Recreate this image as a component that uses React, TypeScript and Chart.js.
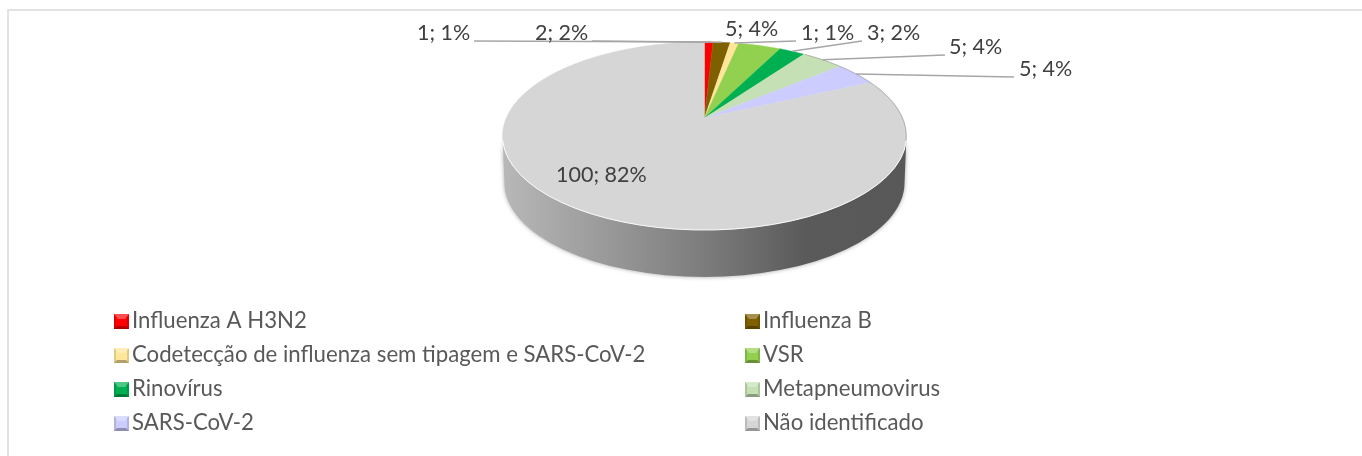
import React, { useEffect, useRef } from "react";
import { Chart, registerables } from "chart.js";

Chart.register(...registerables);

const categories = [
  "Influenza A H3N2",
  "Influenza B",
  "Codetecção de influenza sem tipagem e SARS-CoV-2",
  "VSR",
  "Rinovírus",
  "Metapneumovirus",
  "SARS-CoV-2",
  "Não identificado",
];
const counts = [1, 2, 1, 5, 3, 5, 5, 100];
const sliceColors = ["#ff0000", "#7f6000", "#ffe699", "#92d050", "#00b050", "#c5e0b4", "#ccccff", "#d6d6d6"];

// Layout of the annotation texts (text left edge, text baseline, leader start)
const labelLayout = [
  { x: 417, y: 40, lx: 474, ly: 41 },
  { x: 535, y: 40, lx: 592, ly: 41 },
  { x: 801, y: 40, lx: 796, ly: 41 },
  { x: 725, y: 36, lx: null, ly: null },
  { x: 867, y: 40, lx: 862, ly: 41 },
  { x: 949, y: 54, lx: 945, ly: 55 },
  { x: 1019, y: 76, lx: 1014, ly: 77 },
  { x: 556, y: 182, lx: null, ly: null },
];

const ELLIPSE_CY = 136;
const ELLIPSE_RY = 94;
const APEX_OFFSET = -18 / 94;
const WALL = 47;
const FONT = 'Lato, "Open Sans", sans-serif';
const LABEL_FONT_SIZE = 21.5;
const LEGEND_FONT_SIZE = 22.2;

const project = (cx: number, rx: number, angle: number) => {
  const ux = Math.cos(angle);
  const uy = Math.sin(angle);
  const a = APEX_OFFSET;
  const d = 1 + a * uy;
  return {
    x: cx + rx * ((ux * Math.sqrt(1 - a * a)) / d),
    y: ELLIPSE_CY + ELLIPSE_RY * ((uy + a) / d),
  };
};

const perspectivePie = {
  id: "perspectivePie",
  beforeDatasetsDraw(chart: any) {
    const ctx = chart.ctx;
    const arcs = chart.getDatasetMeta(0).data;
    const cx = arcs[0].x;
    const rx = arcs[0].outerRadius;
    const bottomY = ELLIPSE_CY + WALL;

    // frame
    ctx.save();
    ctx.strokeStyle = "#e2e2e2";
    ctx.lineWidth = 2;
    ctx.beginPath();
    ctx.moveTo(8, 456);
    ctx.lineTo(8, 10);
    ctx.lineTo(1362, 10);
    ctx.stroke();
    ctx.restore();

    // side wall
    ctx.save();
    const g = ctx.createLinearGradient(cx - rx, 0, cx + rx, 0);
    g.addColorStop(0, "#b8b8b8");
    g.addColorStop(0.5, "#7c7c7c");
    g.addColorStop(0.75, "#5a5a5a");
    g.addColorStop(1, "#585858");
    ctx.shadowColor = "rgba(0,0,0,0.35)";
    ctx.shadowBlur = 4;
    ctx.fillStyle = g;
    ctx.beginPath();
    ctx.ellipse(cx, bottomY, rx - 2, ELLIPSE_RY, 0, Math.PI, 0, true);
    ctx.lineTo(cx + rx, ELLIPSE_CY);
    ctx.ellipse(cx, ELLIPSE_CY, rx, ELLIPSE_RY, 0, 0, Math.PI, false);
    ctx.closePath();
    ctx.fill();
    ctx.restore();

    // top face
    const apexPt = { x: cx, y: ELLIPSE_CY + ELLIPSE_RY * APEX_OFFSET };
    arcs.forEach((arc: any) => {
      const span = arc.endAngle - arc.startAngle;
      const steps = Math.max(4, Math.ceil(span / 0.02));
      ctx.beginPath();
      ctx.moveTo(apexPt.x, apexPt.y);
      for (let s = 0; s <= steps; s++) {
        const p = project(cx, rx, arc.startAngle + (span * s) / steps);
        ctx.lineTo(p.x, p.y);
      }
      ctx.closePath();
      ctx.fillStyle = arc.options.backgroundColor;
      ctx.fill();
      ctx.strokeStyle = arc.options.backgroundColor;
      ctx.lineWidth = 0.4;
      ctx.stroke();
    });

    // rim highlight
    ctx.save();
    ctx.strokeStyle = "rgba(255,255,255,0.85)";
    ctx.lineWidth = 1;
    ctx.beginPath();
    ctx.ellipse(cx, ELLIPSE_CY, rx, ELLIPSE_RY, 0, 0.05, Math.PI - 0.05, false);
    ctx.stroke();
    ctx.strokeStyle = "rgba(150,150,150,0.6)";
    ctx.beginPath();
    ctx.ellipse(cx, ELLIPSE_CY, rx - 0.3, ELLIPSE_RY, 0, -1.05, 0.05, false);
    ctx.stroke();
    ctx.restore();

    // leader lines and value labels
    const values: number[] = chart.data.datasets[0].data;
    const total = values.reduce((s, v) => s + v, 0);
    ctx.save();
    ctx.font = `${LABEL_FONT_SIZE}px ${FONT}`;
    ctx.textBaseline = "alphabetic";
    ctx.textAlign = "left";
    arcs.forEach((arc: any, i: number) => {
      const l = labelLayout[i];
      if (l.lx !== null) {
        const p = project(cx, rx, (arc.startAngle + arc.endAngle) / 2);
        ctx.strokeStyle = "#a6a6a6";
        ctx.lineWidth = 1.5;
        ctx.beginPath();
        ctx.moveTo(l.lx, l.ly as number);
        ctx.lineTo(p.x, p.y);
        ctx.stroke();
      }
    });
    arcs.forEach((_: any, i: number) => {
      const l = labelLayout[i];
      ctx.fillStyle = "#404040";
      ctx.fillText(`${values[i]}; ${Math.round((values[i] / total) * 100)}%`, l.x, l.y);
    });
    ctx.restore();

    // legend
    ctx.save();
    ctx.font = `${LEGEND_FONT_SIZE}px ${FONT}`;
    ctx.textBaseline = "alphabetic";
    const colX = [114, 745];
    const rowY = [329, 363, 397, 431];
    chart.data.labels.forEach((label: string, i: number) => {
      const x = colX[i % 2];
      const y = rowY[Math.floor(i / 2)];
      const color = arcs[i].options.backgroundColor;
      const s = 15;
      ctx.fillStyle = color;
      ctx.fillRect(x, y - s, s, s);
      const shade = (pts: number[][], fill: string) => {
        ctx.fillStyle = fill;
        ctx.beginPath();
        pts.forEach((p, k) => (k ? ctx.lineTo(p[0], p[1]) : ctx.moveTo(p[0], p[1])));
        ctx.closePath();
        ctx.fill();
      };
      shade([[x, y], [x + 3, y - 3], [x + s - 3, y - 3], [x + s, y]], "rgba(0,0,0,0.3)");
      shade([[x, y], [x, y - s], [x + 2, y - s + 2], [x + 2, y - 2]], "rgba(0,0,0,0.12)");
      shade([[x + s, y], [x + s, y - s], [x + s - 2, y - s + 2], [x + s - 2, y - 2]], "rgba(0,0,0,0.12)");
      shade([[x, y - s], [x + s, y - s], [x + s - 4, y - s + 5], [x + 4, y - s + 5]], "rgba(255,255,255,0.3)");
      ctx.fillStyle = "#595959";
      ctx.fillText(label, x + 18, y - 1);
    });
    ctx.restore();
    return false;
  },
};

export default function App() {
  const ref = useRef<HTMLCanvasElement>(null);
  useEffect(() => {
    const chart = new Chart(ref.current as HTMLCanvasElement, {
      type: "pie",
      data: {
        labels: categories,
        datasets: [{ data: counts, backgroundColor: sliceColors, borderWidth: 0 }],
      },
      options: {
        responsive: false,
        animation: false,
        layout: { padding: { left: 47, right: 0, top: 0, bottom: 52 } },
        plugins: { legend: { display: false }, tooltip: { enabled: false } },
      },
      plugins: [perspectivePie],
    } as any);
    return () => chart.destroy();
  }, []);
  return (
    <div style={{ position: "absolute", left: 0, top: 0, width: 1362, height: 456, background: "#fff" }}>
      <canvas ref={ref} width={1362} height={456} style={{ display: "block" }} />
    </div>
  );
}
